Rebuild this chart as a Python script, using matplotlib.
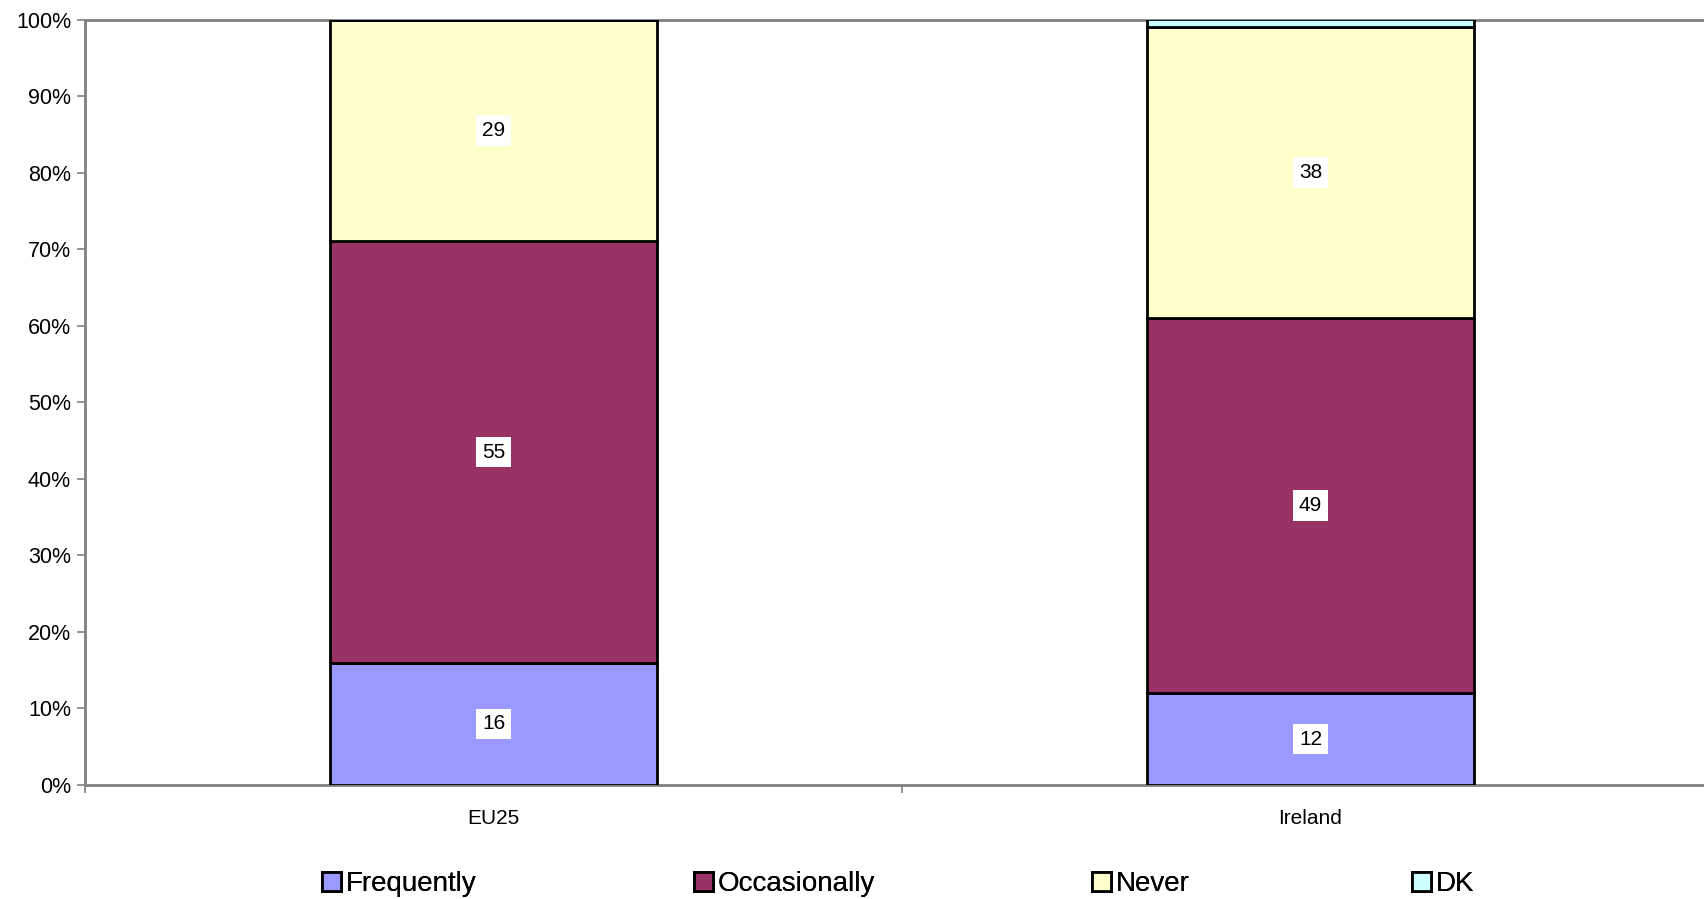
import numpy as np
import matplotlib.pyplot as plt
from matplotlib.patches import Patch
from matplotlib.ticker import PercentFormatter

plt.rcParams['font.family'] = ['Liberation Sans', 'DejaVu Sans']

# Data (percent)
countries = ['EU25', 'Ireland']
series = ['Frequently', 'Occasionally', 'Never', 'DK']
frequently = [16, 12]
occasionally = [55, 49]
never = [29, 38]
dk = [0, 1]
colors = ['#9999FF', '#993366', '#FFFFCC', '#CCFFFF']

values = [frequently, occasionally, never, dk]

fig = plt.figure(figsize=(17.04, 8.99), dpi=100)
# axes runs slightly past the right edge of the picture, as in the original
ax = fig.add_axes([85 / 1704, 1 - 785 / 899, 1634 / 1704, (785 - 19.5) / 899])

x = np.arange(len(countries))
bottom = np.zeros(len(countries))
for name, vals, col in zip(series, values, colors):
    vals = np.array(vals, dtype=float)
    ax.bar(x, vals, 0.4, bottom=bottom, color=col, edgecolor='black',
           linewidth=2, label=name, zorder=3)
    for xi, v, b in zip(x, vals, bottom):
        if v >= 5:
            ax.text(xi, b + v / 2, f'{v:.0f}', ha='center', va='center',
                    fontsize=15, zorder=4,
                    bbox=dict(facecolor='white', edgecolor='none', pad=4))
    bottom += vals

ax.set_xlim(-0.5, 1.5)
ax.set_ylim(0, 100)
ax.set_yticks(np.arange(0, 101, 10))
ax.yaxis.set_major_formatter(PercentFormatter(decimals=0))
ax.set_xticks([-0.5, 0.5, 1.5])
ax.set_xticklabels([])
ax.set_xticks(x, minor=True)
ax.set_xticklabels(countries, minor=True)
ax.tick_params(axis='x', which='minor', length=0, pad=17, labelsize=15)
ax.tick_params(axis='x', which='major', length=6, color='#808080', width=1.2)
ax.tick_params(axis='y', length=6, color='#808080', width=1.2, labelsize=15.5, pad=4)

for side in ['left', 'bottom', 'top']:
    ax.spines[side].set_color('#808080')
    ax.spines[side].set_linewidth(2)
ax.spines['right'].set_visible(False)

# legend entries placed one by one, like the Excel layout
legend_x = [322, 694, 1092, 1412]
for name, col, lx in zip(series, colors, legend_x):
    h = Patch(facecolor=col, edgecolor='black', linewidth=2)
    lg = fig.legend([h], [name], loc='center left',
                    bbox_to_anchor=(lx / 1704, 1 - 884 / 899),
                    frameon=False, fontsize=20, handlelength=0.7,
                    handleheight=0.7, handletextpad=0.15, borderpad=0,
                    borderaxespad=0)
    fig.add_artist(lg)

fig.savefig('out.png', dpi=100)
